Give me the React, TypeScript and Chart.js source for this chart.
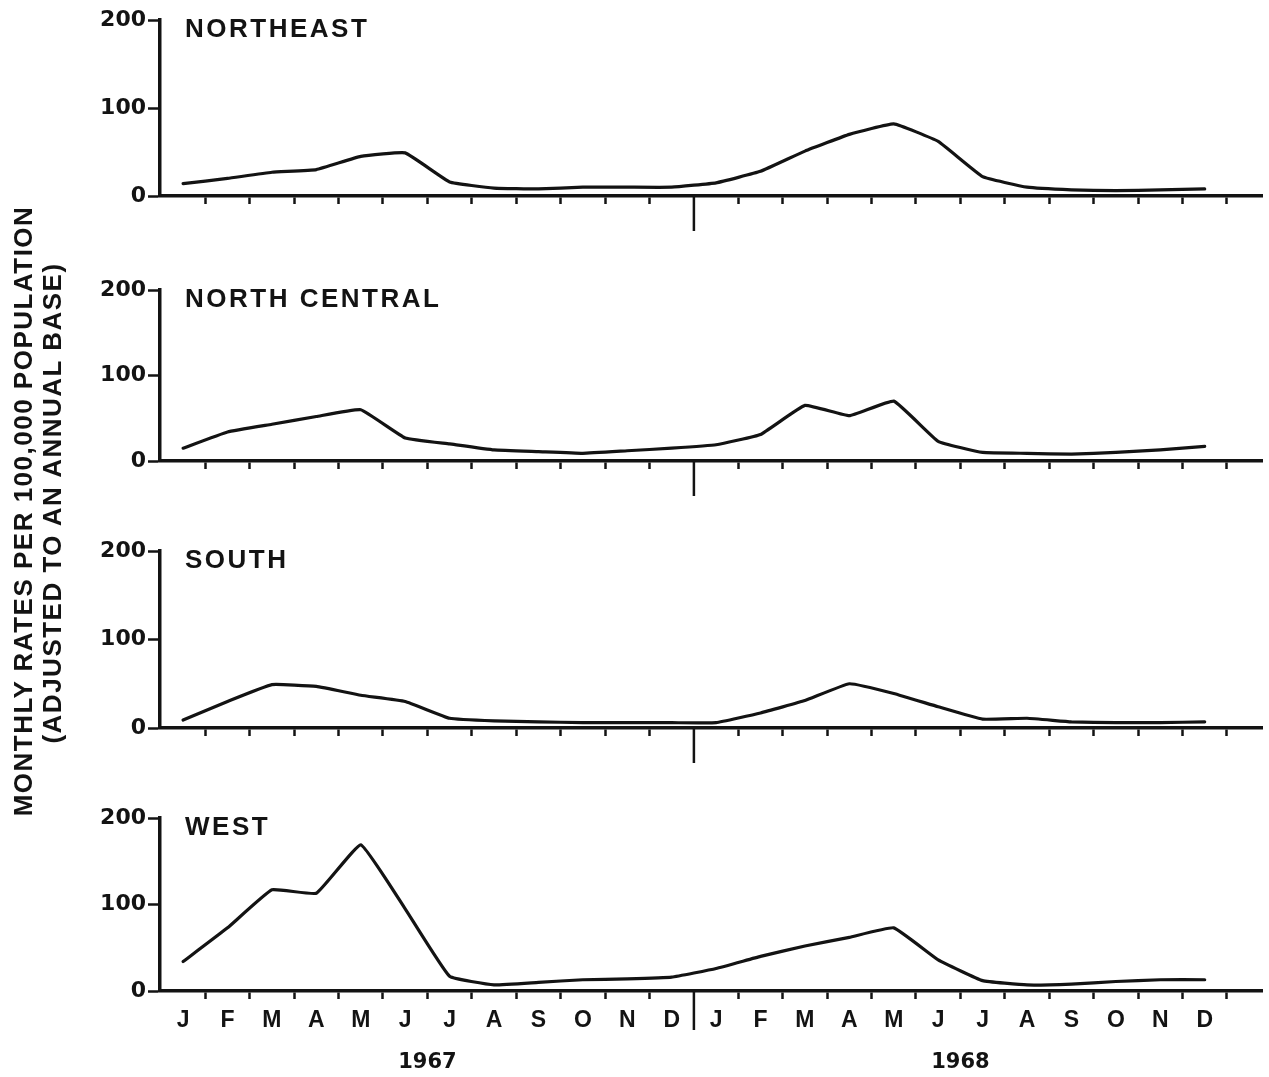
import React, { useEffect, useRef } from "react";
import { Chart, registerables } from "chart.js";

Chart.register(...registerables);

// ---------- data ----------
const MONTH_LABELS = ["J", "F", "M", "A", "M", "J", "J", "A", "S", "O", "N", "D", "J", "F", "M", "A", "M", "J", "J", "A", "S", "O", "N", "D"];
const MONTH_POS = [0, 1, 2, 3, 4, 5, 6, 7, 8, 9, 10, 11, 12, 13, 14, 15, 16, 17, 18, 19, 20, 21, 22, 23];
const TICK_POS = [0.5, 1.5, 2.5, 3.5, 4.5, 5.5, 6.5, 7.5, 8.5, 9.5, 10.5, 12.5, 13.5, 14.5, 15.5, 16.5, 17.5, 18.5, 19.5, 20.5, 21.5, 22.5, 23.5];
const YEAR_SEPARATOR = 11.5;
const YEAR_LABELS = ["1967", "1968"];
const YEAR_POS = [5.5, 17.5];
const Y_TICKS = [0, 100, 200];
const REGIONS = ["NORTHEAST", "NORTH CENTRAL", "SOUTH", "WEST"];

const NORTHEAST = [14, 20, 27, 30, 45, 49, 16, 9, 8, 10, 10, 10, 15, 28, 51, 70, 82, 62, 22, 10, 7, 6, 7, 8];
const NORTH_CENTRAL = [15, 34, 43, 52, 60, 27, 20, 13, 11, 9, 12, 15, 19, 31, 65, 53, 70, 23, 10, 9, 8, 10, 13, 17];
const SOUTH = [9, 30, 49, 47, 37, 30, 11, 8, 7, 6, 6, 6, 6, 17, 31, 50, 39, 24, 10, 11, 7, 6, 6, 7];
const WEST = [34, 73, 117, 113, 169, 95, 17, 7, 10, 13, 14, 16, 26, 40, 52, 62, 73, 36, 12, 7, 8, 11, 13, 13];
const SERIES = [NORTHEAST, NORTH_CENTRAL, SOUTH, WEST];

// ---------- layout ----------
const X_MIN = -0.52;
const X_MAX = 24.29;
const PLOT_TOP = [20, 290, 551, 818];
const PLOT_BOTTOM = [196, 461, 728, 991];
const PAD_TOP = 20;
const INK = "#131313";
const LETTER_FONT = "'Liberation Sans', Arial, sans-serif";
const DIGIT_FONT = "'DejaVu Sans', sans-serif";

const separatorPlugin = {
  id: "yearSep",
  afterDraw(chart: any, _args: any, opts: any) {
    const xs = chart.scales.x;
    const px = xs.getPixelForValue(opts.value);
    const ctx = chart.ctx;
    ctx.save();
    ctx.strokeStyle = INK;
    ctx.lineWidth = 2.5;
    ctx.beginPath();
    ctx.moveTo(px, chart.chartArea.bottom);
    ctx.lineTo(px, chart.chartArea.bottom + opts.length);
    ctx.stroke();
    ctx.restore();
  },
};

function Panel({ idx }: { idx: number }) {
  const ref = useRef<HTMLCanvasElement>(null);
  const isLast = idx === REGIONS.length - 1;
  const bottomSpace = isLast ? 83 : 45;
  const top = PLOT_TOP[idx] - PAD_TOP;
  const height = PAD_TOP + (PLOT_BOTTOM[idx] - PLOT_TOP[idx]) + bottomSpace;

  useEffect(() => {
    if (!ref.current) return;
    const scales: any = {
      x: {
        type: "linear",
        position: "bottom",
        weight: 0,
        min: X_MIN,
        max: X_MAX,
        bounds: "data",
        afterBuildTicks: (s: any) => {
          s.ticks = TICK_POS.map((v) => ({ value: v }));
        },
        afterFit: (s: any) => {
          s.height = isLast ? 12 : bottomSpace;
          s.paddingLeft = 0;
          s.paddingRight = 0;
        },
        ticks: { display: false },
        grid: { drawOnChartArea: false, drawTicks: true, tickLength: 8, tickWidth: 2.5, tickColor: INK },
        border: { display: true, width: 3.5, color: INK },
      },
      y: {
        type: "linear",
        position: "left",
        min: 0,
        max: 200,
        afterBuildTicks: (s: any) => {
          s.ticks = Y_TICKS.map((v) => ({ value: v }));
        },
        afterFit: (s: any) => {
          s.width = 160;
        },
        ticks: {
          color: INK,
          padding: 2,
          font: { family: DIGIT_FONT, size: 22, weight: "bold" },
        },
        grid: { drawOnChartArea: false, drawTicks: true, tickLength: 12, tickWidth: 2.5, tickColor: INK },
        border: { display: true, width: 3.5, color: INK },
      },
    };
    if (isLast) {
      scales.xl = {
        type: "linear",
        position: "bottom",
        weight: 1,
        min: X_MIN,
        max: X_MAX,
        bounds: "data",
        afterBuildTicks: (s: any) => {
          s.ticks = MONTH_POS.map((v) => ({ value: v }));
        },
        afterFit: (s: any) => {
          s.height = 33;
          s.paddingLeft = 0;
          s.paddingRight = 0;
        },
        ticks: {
          color: INK,
          padding: 4,
          autoSkip: false,
          maxRotation: 0,
          minRotation: 0,
          font: { family: LETTER_FONT, size: 23, weight: "bold" },
          callback: (v: any) => MONTH_LABELS[MONTH_POS.indexOf(Number(v))] ?? "",
        },
        grid: { display: false, drawTicks: false },
        border: { display: false },
      };
      scales.xy = {
        type: "linear",
        position: "bottom",
        weight: 2,
        min: X_MIN,
        max: X_MAX,
        bounds: "data",
        afterBuildTicks: (s: any) => {
          s.ticks = YEAR_POS.map((v) => ({ value: v }));
        },
        afterFit: (s: any) => {
          s.height = 38;
          s.paddingLeft = 0;
          s.paddingRight = 0;
        },
        ticks: {
          color: INK,
          padding: 14,
          autoSkip: false,
          maxRotation: 0,
          minRotation: 0,
          font: { family: DIGIT_FONT, size: 21, weight: "bold" },
          callback: (v: any) => YEAR_LABELS[YEAR_POS.indexOf(Number(v))] ?? "",
        },
        grid: { display: false, drawTicks: false },
        border: { display: false },
      };
    }

    const chart = new Chart(ref.current, {
      type: "line",
      data: {
        datasets: [
          {
            label: REGIONS[idx],
            data: MONTH_POS.map((x, i) => ({ x, y: SERIES[idx][i] })),
            borderColor: INK,
            borderWidth: 3.2,
            pointRadius: 0,
            tension: 0.1,
            borderCapStyle: "round",
            borderJoinStyle: "round",
            fill: false,
          },
        ],
      },
      options: {
        responsive: false,
        maintainAspectRatio: false,
        animation: false,
        layout: { padding: { top: PAD_TOP, right: 7, left: 0, bottom: 0 } },
        plugins: {
          legend: { display: false },
          tooltip: { enabled: false },
          title: { display: false },
          yearSep: { value: YEAR_SEPARATOR, length: isLast ? 39 : 35 },
        } as any,
        scales,
      },
      plugins: [separatorPlugin],
    } as any);
    return () => chart.destroy();
  }, []);

  return (
    <>
      <canvas
        ref={ref}
        width={1269}
        height={height}
        style={{ position: "absolute", left: 0, top, width: 1269, height }}
      />
      <div
        style={{
          position: "absolute",
          left: 185,
          top: PLOT_TOP[idx] - 5,
          fontFamily: LETTER_FONT,
          fontWeight: "bold",
          fontSize: 26,
          lineHeight: 1,
          letterSpacing: 2.5,
          color: INK,
          whiteSpace: "nowrap",
        }}
      >
        {REGIONS[idx]}
      </div>
    </>
  );
}

export default function App() {
  const titleStyle: any = {
    position: "absolute",
    transform: "translate(-50%, -50%) rotate(-90deg)",
    whiteSpace: "nowrap",
    fontFamily: LETTER_FONT,
    fontWeight: "bold",
    fontSize: 26,
    lineHeight: 1,
    letterSpacing: 1.5,
    color: INK,
  };
  return (
    <div
      style={{
        position: "absolute",
        left: 0,
        top: 0,
        width: 1269,
        height: 1077,
        overflow: "hidden",
        background: "#ffffff",
      }}
    >
      {REGIONS.map((_, i) => (
        <Panel key={i} idx={i} />
      ))}
      <div style={{ ...titleStyle, left: 23, top: 511 }}>MONTHLY RATES PER 100,000 POPULATION</div>
      <div style={{ ...titleStyle, left: 52, top: 503 }}>(ADJUSTED TO AN ANNUAL BASE)</div>
    </div>
  );
}
